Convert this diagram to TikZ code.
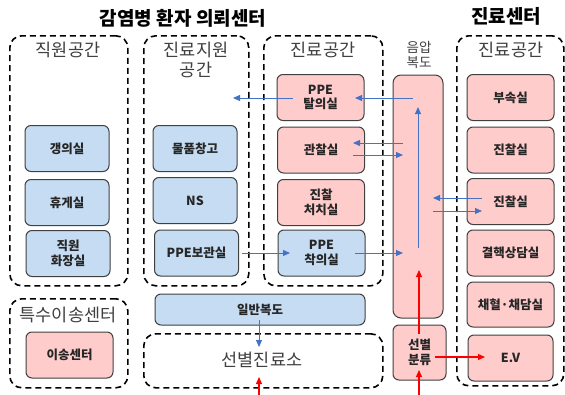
\documentclass[tikz,border=0pt]{standalone}
\usepackage{fontspec}
\setmainfont{Noto Sans CJK KR}
\usetikzlibrary{arrows.meta,calc}
\definecolor{bF}{HTML}{C5DCF2}
\definecolor{pF}{HTML}{FFCCCC}
\definecolor{bd}{HTML}{404040}
\definecolor{arB}{HTML}{4472C4}
\definecolor{arR}{HTML}{FF0000}
\begin{document}
\begin{tikzpicture}[x=1pt,y=-1pt,
 zone/.style={draw=black, line width=1.6pt, dash pattern=on 6pt off 4pt, rounded corners=12pt, anchor=north west, inner sep=0pt},
 room/.style={draw=bd, line width=1pt, rounded corners=6pt, font=\bfseries\fontsize{12.5}{14.5}\selectfont, align=center, inner sep=0pt, text=black!85},
 broom/.style={room, fill=bF, minimum width=84pt, minimum height=46pt},
 proom/.style={room, fill=pF, minimum width=87pt, minimum height=46pt},
 zlabel/.style={font=\fontsize{17.5}{20}\selectfont, text=bd, align=center},
 ttl/.style={font=\bfseries\fontsize{19}{22}\selectfont},
 barr/.style={draw=arB, line width=1pt, -{Triangle[length=7pt,width=6pt]}},
 rarr/.style={draw=arR, line width=1.3pt, -{Triangle[length=7pt,width=6pt]}},
]
\useasboundingbox (0,0) rectangle (565,394);
\fill[white] (0,0) rectangle (565,394);

% titles
\node[ttl] (t1) at (183,18) {감염병 환자 의뢰센터};
\node[ttl] (t2) at (506,16) {진료센터};

% zones
\node[zone, minimum width=118pt, minimum height=250pt] (z1) at (9,35) {};
\node[zone, minimum width=105pt, minimum height=250pt] (z2) at (143,35) {};
\node[zone, minimum width=119pt, minimum height=250pt] (z3) at (263,35) {};
\node[zone, minimum width=107pt, minimum height=350pt] (z4) at (456,35) {};
\node[zone, minimum width=118pt, minimum height=89pt] (z5) at (9,298) {};
\node[zone, minimum width=239pt, minimum height=54pt] (z6) at (143,333) {};

% zone labels
\node[zlabel] (l1) at (68,50) {직원공간};
\node[zlabel, font=\fontsize{17.5}{19.5}\selectfont] (l2) at (196,60) {진료지원\\공간};
\node[zlabel] (l3) at (323,50) {진료공간};
\node[zlabel] (l4) at (511,50) {진료공간};
\node[zlabel] (l5) at (68,315) {특수이송센터};
\node[zlabel] (l6) at (262,360) {선별진료소};
\node[font=\fontsize{13.5}{15.5}\selectfont, text=bd, align=center] (l7) at (419,55) {음압\\복도};

% rooms left
\node[broom] (r11) at (67,148.5) {갱의실};
\node[broom] (r12) at (67,202.5) {휴게실};
\node[broom] (r13) at (68,253.5) {직원\\화장실};
\node[broom] (r21) at (195,148.5) {물품창고};
\node[broom] (r22) at (195,200.5) {NS};
\node[broom] (r23) at (196.5,253) {PPE보관실};
\node[broom, minimum width=210pt, minimum height=31pt] (gen) at (260,309.5) {일반복도};
\node[proom] (ev1) at (69.5,355) {이송센터};

% rooms middle
\node[proom] (m1) at (320.5,97.5) {PPE\\탈의실};
\node[proom] (m2) at (321,150) {관찰실};
\node[proom] (m3) at (321,202.5) {진찰\\처치실};
\node[broom, minimum width=87pt] (m4) at (321.5,253) {PPE\\착의실};

% negative pressure corridor
\node[proom, minimum width=50pt, minimum height=243pt, rounded corners=8pt] (cor) at (418,196.5) {};
\node[proom, minimum width=53pt, minimum height=55pt] (tri) at (419.5,352.5) {선별\\분류};

% rooms right
\node[proom] (q1) at (510.5,97.5) {부속실};
\node[proom] (q2) at (510.5,150) {진찰실};
\node[proom] (q3) at (510.5,201.5) {진찰실};
\node[proom] (q4) at (510.5,253) {결핵상담실};
\node[proom, minimum height=45pt] (q5) at (510.5,304.5) {채혈·채담실};
\node[proom, minimum width=85pt] (q6) at (510.5,358) {E.V};

% connector end points
\coordinate (a1s) at (413,98);   \coordinate (a1e) at (355,98);
\coordinate (a2s) at (293,98);   \coordinate (a2e) at (233,98);
\coordinate (a3s) at (403,143);  \coordinate (a3e) at (353,143);
\coordinate (a4s) at (353,155);  \coordinate (a4e) at (403,155);
\coordinate (a5s) at (418,248);  \coordinate (a5e) at (418,107);
\coordinate (a6s) at (482,198);  \coordinate (a6e) at (433,198);
\coordinate (a7s) at (433,211);  \coordinate (a7e) at (482,211);
\coordinate (a8s) at (242,253);  \coordinate (a8e) at (290,253);
\coordinate (a9s) at (355,253);  \coordinate (a9e) at (403,253);
\coordinate (a10s) at (259,320); \coordinate (a10e) at (259,347);
\coordinate (b1s) at (259,396);  \coordinate (b1e) at (259,377);
\coordinate (b2s) at (419,334);  \coordinate (b2e) at (419,270);
\coordinate (b3s) at (419,396);  \coordinate (b3e) at (419,370);
\coordinate (b4s) at (435,357);  \coordinate (b4e) at (485,357);

% blue arrows
\draw[barr] (a1s) -- (a1e);
\draw[barr] (a2s) -- (a2e);
\draw[barr] (a3s) -- (a3e);
\draw[barr] (a4s) -- (a4e);
\draw[barr] (a5s) -- (a5e);
\draw[barr] (a6s) -- (a6e);
\draw[barr] (a7s) -- (a7e);
\draw[barr] (a8s) -- (a8e);
\draw[barr] (a9s) -- (a9e);
\draw[barr] (a10s) -- (a10e);
% red arrows
\draw[rarr] (b1s) -- (b1e);
\draw[rarr] (b2s) -- (b2e);
\draw[rarr] (b3s) -- (b3e);
\draw[rarr] (b4s) -- (b4e);
\end{tikzpicture}
\end{document}
